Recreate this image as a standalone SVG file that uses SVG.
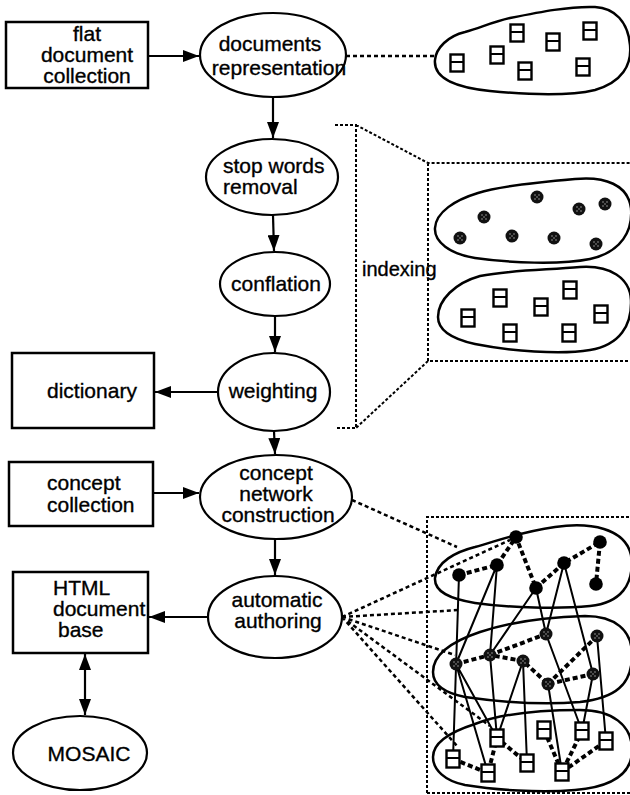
<svg xmlns="http://www.w3.org/2000/svg" xmlns:xlink="http://www.w3.org/1999/xlink" width="630" height="795" viewBox="0 0 630 795">
<defs>
<marker id="ah" viewBox="0 0 16 12" refX="16" refY="6" markerWidth="16" markerHeight="12" markerUnits="userSpaceOnUse" orient="auto-start-reverse"><path d="M0,0 L16,6 L0,12 z" fill="#000"/></marker>
<g id="doc"><rect x="-6.5" y="-8.5" width="13" height="17" fill="#fff" stroke="#000" stroke-width="2.4"/><line x1="-6.5" y1="-1" x2="6.5" y2="-1" stroke="#000" stroke-width="2"/></g>
<g id="hdot"><circle r="6.5" fill="#111"/><circle cx="-2" cy="-2" r="0.7" fill="#bbb"/><circle cx="2" cy="-2" r="0.7" fill="#bbb"/><circle cx="-2" cy="2" r="0.7" fill="#bbb"/><circle cx="2" cy="2" r="0.7" fill="#bbb"/><circle r="0.7" fill="#bbb"/></g>
<circle id="bdot" r="6.8" fill="#000"/>
</defs>
<style>
.box{fill:#fff;stroke:#000;stroke-width:2.5}
.ell{fill:#fff;stroke:#000;stroke-width:2.2}
.t{font-family:"Liberation Sans",Arial,sans-serif;font-size:21px;fill:#000;stroke:#000;stroke-width:0.35}
.m{text-anchor:middle}
.arr{stroke:#000;stroke-width:2.2;fill:none;marker-end:url(#ah)}
.arr2{marker-start:url(#ah)}
.dot{stroke:#000;stroke-width:2.5;stroke-dasharray:4 3;fill:none}
.br{stroke:#000;stroke-width:2;stroke-dasharray:3 2;fill:none}
.blob{fill:none;stroke:#000;stroke-width:2.5}
.tdot{stroke:#000;stroke-width:4;stroke-dasharray:5 3;fill:none}
.sol{stroke:#000;stroke-width:2;fill:none}
</style>
<rect width="630" height="795" fill="#fff"/>

<!-- right-hand illustrations -->
<g id="blob-documents">
<path class="blob" d="M435,60 C436,48 448,36 465,32 C480,28 492,22 510,18 C540,12 570,6 595,7 C615,8 628,22 630,45 C632,65 622,82 595,90 C570,96 530,95 490,91 C460,88 433,80 435,60 Z"/>
<use xlink:href="#doc" x="457" y="63"/><use xlink:href="#doc" x="497" y="55"/><use xlink:href="#doc" x="517" y="33"/><use xlink:href="#doc" x="525" y="71"/><use xlink:href="#doc" x="553" y="42"/><use xlink:href="#doc" x="590" y="31"/><use xlink:href="#doc" x="583" y="67"/>
</g>

<g id="indexing">
<path class="br" d="M335,125 L356,125 L356,428 L335,428 M356,125 L428,163 L630,163 M428,163 L428,361 L630,361 M428,361 L356,428"/>
<text class="t" x="362" y="276" style="font-size:20px">indexing</text>
<path class="blob" d="M435,228 C436,212 455,200 478,193 C500,186 540,182 575,179 C605,176 628,185 631,208 C633,230 622,252 590,259 C560,265 510,263 475,258 C450,254 434,242 435,228 Z"/>
<use xlink:href="#hdot" x="537" y="197"/><use xlink:href="#hdot" x="484" y="217"/><use xlink:href="#hdot" x="460" y="238"/><use xlink:href="#hdot" x="512" y="236"/><use xlink:href="#hdot" x="554" y="238"/><use xlink:href="#hdot" x="579" y="209"/><use xlink:href="#hdot" x="605" y="204"/><use xlink:href="#hdot" x="596" y="244"/>
<path class="blob" d="M438,317 C438,300 455,283 480,276 C510,270 545,270 580,267 C610,265 630,278 631,300 C632,325 620,345 590,350 C560,355 510,351 475,344 C452,339 438,330 438,317 Z"/>
<use xlink:href="#doc" x="468" y="318"/><use xlink:href="#doc" x="500" y="298"/><use xlink:href="#doc" x="510" y="333"/><use xlink:href="#doc" x="541" y="307"/><use xlink:href="#doc" x="570" y="290"/><use xlink:href="#doc" x="569" y="333"/><use xlink:href="#doc" x="601" y="314"/>
</g>

<g id="network">
<path class="br" d="M427,793 L427,517 L630,517 M427,793 L630,793"/>
<path class="blob" d="M435,578 C437,562 455,552 475,547 C500,540 520,532 555,527 C590,522 625,528 631,555 C635,585 620,603 590,606 C560,609 510,608 475,603 C450,599 434,592 435,578 Z"/>
<path class="blob" d="M433,672 C433,655 450,642 480,632 C510,622 550,617 585,616 C615,616 632,630 632,655 C632,685 615,698 580,702 C545,705 500,702 465,697 C445,693 433,685 433,672 Z"/>
<path class="blob" d="M433,757 C433,742 450,732 475,724 C500,714 540,710 580,710 C612,710 632,725 632,750 C632,775 610,787 575,790 C540,793 495,790 465,785 C445,781 433,770 433,757 Z"/>
<g id="network-links">
<path class="sol" d="M459,575 L453,759 M497,565 L456,664 M497,565 L490,655 M536,588 L490,655 M536,588 L546,634 M564,563 L546,634 M564,563 L593,674 M456,664 L488,773 M456,664 L497,738 M490,655 L497,738 M523,661 L497,738 M523,661 L527,763 M546,634 L582,731 M548,684 L562,772 M593,674 L582,731 M597,636 L606,741"/>
<path class="tdot" d="M459,575 L497,565 L516,537 L536,588 L564,563 L600,542 L596,584 M456,664 L490,655 L523,661 L548,684 L593,674 M490,655 L546,634 M548,684 L597,636 M453,759 L488,773 L497,738 L527,763 M544,730 L562,772 L582,731 M562,772 L606,741"/>
</g>
<use xlink:href="#bdot" x="516" y="537"/><use xlink:href="#bdot" x="600" y="542"/><use xlink:href="#bdot" x="459" y="575"/><use xlink:href="#bdot" x="497" y="565"/><use xlink:href="#bdot" x="564" y="563"/><use xlink:href="#bdot" x="536" y="588"/><use xlink:href="#bdot" x="596" y="584"/>
<use xlink:href="#hdot" x="456" y="664"/><use xlink:href="#hdot" x="490" y="655"/><use xlink:href="#hdot" x="523" y="661"/><use xlink:href="#hdot" x="546" y="634"/><use xlink:href="#hdot" x="597" y="636"/><use xlink:href="#hdot" x="548" y="684"/><use xlink:href="#hdot" x="593" y="674"/>
<use xlink:href="#doc" x="453" y="759"/><use xlink:href="#doc" x="488" y="773"/><use xlink:href="#doc" x="497" y="738"/><use xlink:href="#doc" x="527" y="763"/><use xlink:href="#doc" x="544" y="730"/><use xlink:href="#doc" x="562" y="772"/><use xlink:href="#doc" x="582" y="731"/><use xlink:href="#doc" x="606" y="741"/>
</g>

<!-- connectors -->
<g id="connectors">
<line class="arr" x1="148" y1="56" x2="199" y2="56"/>
<line class="arr" x1="273" y1="97" x2="273" y2="138"/>
<line class="arr" x1="273" y1="215" x2="274" y2="251"/>
<line class="arr" x1="275" y1="316" x2="275" y2="352"/>
<line class="arr" x1="218" y1="392" x2="155" y2="392"/>
<line class="arr" x1="274" y1="431" x2="275" y2="454"/>
<line class="arr" x1="153" y1="493" x2="199" y2="493"/>
<line class="arr" x1="275" y1="539" x2="275" y2="575"/>
<line class="arr" x1="208" y1="617" x2="149" y2="617"/>
<line class="arr arr2" x1="85" y1="654" x2="85" y2="715"/>
<line class="dot" x1="346" y1="56" x2="436" y2="56"/>
<line class="dot" x1="352" y1="500" x2="457" y2="547"/>
<path class="dot" d="M342,617 L510,540 M342,617 L459,610 M342,617 L455,655 M342,617 L490,726 M342,617 L458,747"/>
</g>

<!-- process nodes -->
<g id="n-flat"><rect class="box" x="6" y="22" width="142" height="66"/><text class="t m" x="87" y="41">flat</text><text class="t m" x="87" y="62">document</text><text class="t m" x="87" y="83">collection</text></g>
<g id="n-docrep"><ellipse class="ell" cx="273" cy="55" rx="73" ry="42"/><text class="t m" x="270" y="51">documents</text><text class="t m" x="279" y="75">representation</text></g>
<g id="n-stop"><ellipse class="ell" cx="272" cy="177" rx="66" ry="38"/><text class="t" x="223" y="173">stop words</text><text class="t" x="223" y="194">removal</text></g>
<g id="n-confl"><ellipse class="ell" cx="275" cy="284" rx="55" ry="32"/><text class="t m" x="276" y="291">conflation</text></g>
<g id="n-weight"><ellipse class="ell" cx="274" cy="392" rx="56" ry="39"/><text class="t m" x="273" y="398">weighting</text></g>
<g id="n-dict"><rect class="box" x="12" y="353" width="142" height="75"/><text class="t" x="47" y="398">dictionary</text></g>
<g id="n-ccoll"><rect class="box" x="9" y="462" width="144" height="64"/><text class="t" x="47" y="490">concept</text><text class="t" x="47" y="512">collection</text></g>
<g id="n-cnet"><ellipse class="ell" cx="276" cy="497" rx="76" ry="42"/><text class="t m" x="276" y="480">concept</text><text class="t m" x="276" y="501">network</text><text class="t m" x="278" y="522">construction</text></g>
<g id="n-auto"><ellipse class="ell" cx="275" cy="617" rx="67" ry="41"/><text class="t m" x="277" y="607">automatic</text><text class="t m" x="278" y="628">authoring</text></g>
<g id="n-html"><rect class="box" x="13" y="572" width="135" height="81"/><text class="t" x="53" y="595">HTML</text><text class="t" x="53" y="616">document</text><text class="t" x="58" y="637">base</text></g>
<g id="n-mosaic"><ellipse class="ell" cx="80" cy="753" rx="67" ry="37"/><text class="t m" x="89" y="761">MOSAIC</text></g>
</svg>
